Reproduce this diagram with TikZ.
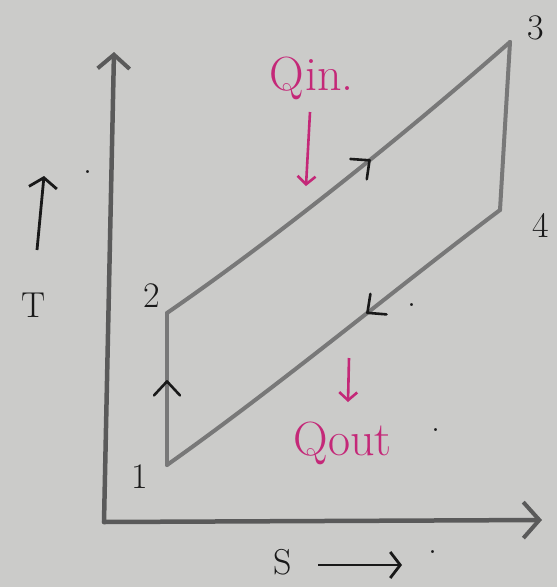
\documentclass[tikz,border=0pt]{standalone}
\usetikzlibrary{arrows.meta,decorations.markings}
\definecolor{paper}{RGB}{203,203,201}
\definecolor{ink}{RGB}{25,25,25}
\definecolor{pencil}{RGB}{120,120,120}
\definecolor{pink}{RGB}{196,40,120}
\begin{document}
\begin{tikzpicture}[x=1pt,y=-1pt,
  axis/.style={draw=pencil!75!black,line width=4.5pt,line cap=round},
  curve/.style={draw=pencil,line width=4pt,line cap=round},
  midarrow/.style={postaction={decorate},decoration={markings,
     mark=at position #1 with {\draw[ink,line width=2.6pt,line cap=round,line join=round] (-14pt,-13pt) -- (0,0) -- (-14pt,13pt);}}},
  lbl/.style={text=ink,font=\fontsize{36}{40}\selectfont},
  qlbl/.style={text=pink,font=\fontsize{48}{52}\selectfont},
  qarrow/.style={draw=pink,line width=2.6pt,-{Straight Barb[length=8pt,width=18pt,line width=2.6pt]}}]
\useasboundingbox (0,0) rectangle (557,587);
\fill[paper] (0,0) rectangle (557,587);
% axes
\coordinate (O) at (104,522);
\coordinate (Ytop) at (114,52);
\coordinate (Xend) at (542,520);
\draw[axis,-{Straight Barb[length=14pt,width=32pt,line width=4pt]}] (O) -- (Ytop);
\draw[axis,-{Straight Barb[length=16pt,width=36pt,line width=4pt]}] (O) -- (Xend);
% state points
\coordinate (p1) at (167,465);
\coordinate (p2) at (167,313);
\coordinate (p3) at (510,42);
\coordinate (p4) at (500,210);
% cycle
\draw[curve,midarrow=0.55] (p1) -- (p2);
\draw[curve,midarrow=0.58] (p2) .. controls (280,235) and (410,130) .. (p3);
\draw[curve] (p3) -- (p4);
\draw[curve,midarrow=0.40] (p4) .. controls (400,285) and (280,385) .. (p1);
% labels
\node[lbl] (n1) at (140,477) {1};
\node[lbl] (n2) at (152,296) {2};
\node[lbl] (n3) at (536,28) {3};
\node[lbl] (n4) at (541,225) {4};
\node[qlbl,anchor=west] (qin) at (266,78) {Q\kern1pt in.};
\coordinate (qina) at (310,112);
\coordinate (qinb) at (306,186);
\draw[qarrow] (qina) -- (qinb);
\coordinate (qouta) at (349,358);
\coordinate (qoutb) at (348,402);
\draw[qarrow] (qouta) -- (qoutb);
\node[qlbl,anchor=west] (qout) at (290,443) {Qout};
\node[lbl] (dotQ) at (436,430) {.};
% T axis label
\coordinate (ta) at (37,250);
\coordinate (tb) at (44,176);
\draw[ink,line width=2.8pt,-{Straight Barb[length=10pt,width=28pt,line width=2.8pt]}] (ta) -- (tb);
\node[lbl] (dotT) at (88,172) {.};
\node[lbl] (T) at (34,305) {T};
% s label
\node[lbl,anchor=west] (S) at (270,562) {S};
\coordinate (sa) at (318,565);
\coordinate (sb) at (402,565);
\draw[ink,line width=2.8pt,-{Straight Barb[length=10pt,width=26pt,line width=2.8pt]}] (sa) -- (sb);
\node[lbl] (dotS) at (433,552) {.};
\node[lbl] (dot4) at (412,305) {.};
\end{tikzpicture}
\end{document}
